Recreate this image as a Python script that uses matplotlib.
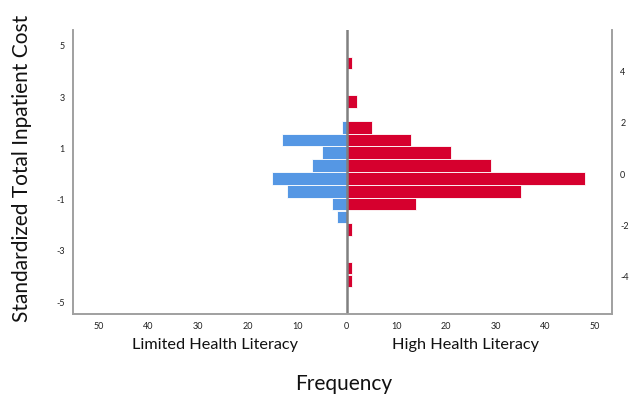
import matplotlib
matplotlib.use("Agg")
import matplotlib.pyplot as plt

# Histogram bins (standardized cost) and counts per group
bin_centers = [4.33, 3.83, 3.33, 2.83, 2.33, 1.83, 1.33, 0.83, 0.33, -0.17,
               -0.67, -1.17, -1.67, -2.17, -2.67, -3.17, -3.67, -4.17]
limited = [0, 0, 0, 0, 0, 1, 13, 5, 7, 15, 12, 3, 2, 0, 0, 0, 0, 0]
high = [1, 0, 0, 2, 0, 5, 13, 21, 29, 48, 35, 14, 0, 1, 0, 0, 1, 1]
bin_width = 0.495

x_ticks = [-50, -40, -30, -20, -10, 0, 10, 20, 30, 40, 50]
left_y_ticks = [5, 3, 1, -1, -3, -5]
right_y_ticks = [4, 2, 0, -2, -4]

plt.rcParams['font.family'] = ['Lato', 'DejaVu Sans']
plt.rcParams['axes.unicode_minus'] = False

fig = plt.figure(figsize=(6.34, 3.95), dpi=100)
ax = fig.add_axes([0.115, 0.205, 0.85, 0.719])

blue = '#5597E4'
red = '#D6002E'

ax.barh(bin_centers, [-v for v in limited], height=bin_width, color=blue,
        edgecolor='white', linewidth=0.6)
ax.barh(bin_centers, high, height=bin_width, color=red,
        edgecolor='white', linewidth=0.6)
ax.axvline(0, color='#808080', linewidth=1.8)

ax.set_xlim(-55.2, 53.4)
ax.set_ylim(-5.46, 5.62)
ax.set_xticks(x_ticks)
ax.set_xticklabels([str(abs(t)) for t in x_ticks])
ax.set_yticks(left_y_ticks)
ax.tick_params(length=0, labelsize=6.5, colors='#222222', pad=6)

ax2 = ax.twinx()
ax2.set_ylim(ax.get_ylim())
ax2.set_yticks(right_y_ticks)
ax2.tick_params(length=0, labelsize=6.5, colors='#222222', pad=6)

for a in (ax, ax2):
    a.spines['top'].set_visible(False)
    for s in ('left', 'right', 'bottom'):
        a.spines[s].set_color('#A0A0A0')
        a.spines[s].set_linewidth(1.2)

fig.text(0.035, 1 - 168 / 395, 'Standardized Total Inpatient Cost', rotation=90,
         ha='center', va='center', fontsize=15, color='#111111')
fig.text(215 / 634, 1 - 345 / 395, 'Limited Health Literacy', ha='center',
         va='center', fontsize=11.7, color='#111111')
fig.text(466 / 634, 1 - 345 / 395, 'High Health Literacy', ha='center',
         va='center', fontsize=11.7, color='#111111')
fig.text(344 / 634, 1 - 384 / 395, 'Frequency', ha='center', va='center',
         fontsize=15, color='#111111')

fig.savefig('out.png', dpi=100)
